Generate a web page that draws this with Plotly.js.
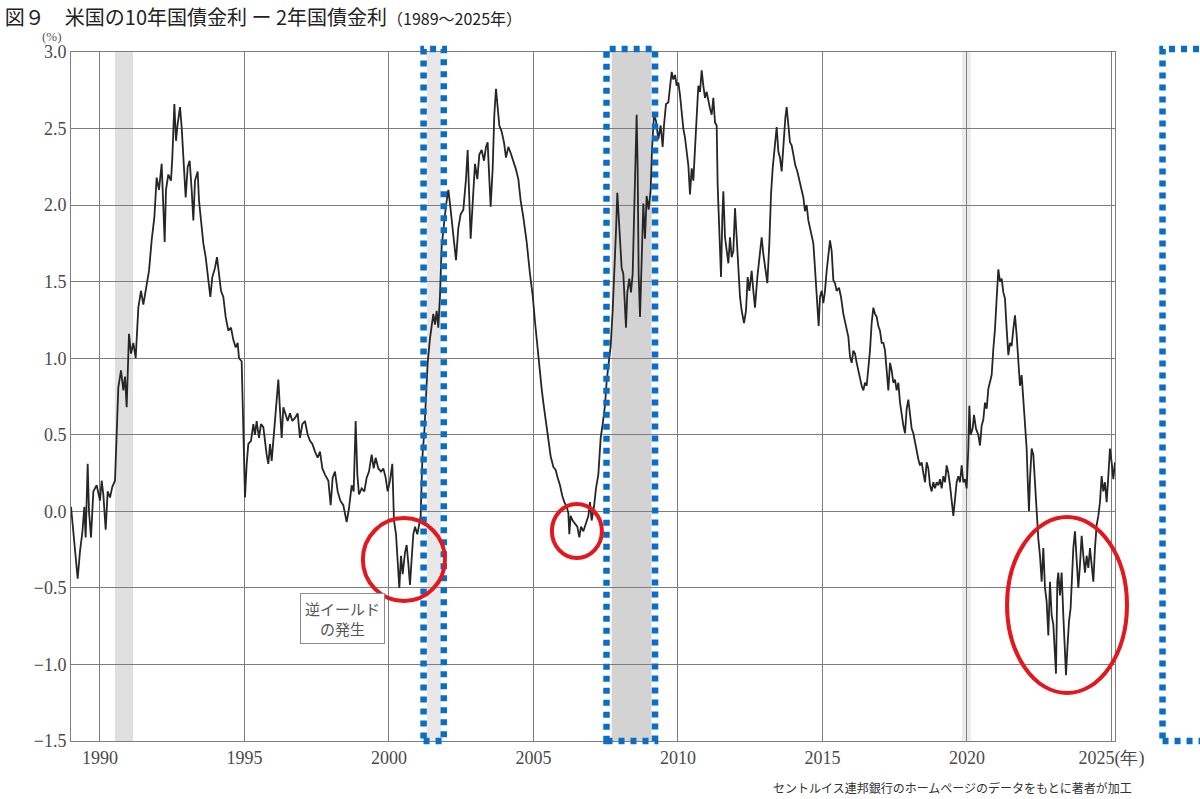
<!DOCTYPE html>
<html>
<head>
<meta charset="utf-8">
<script src="https://cdn.plot.ly/plotly-3.0.1.min.js"></script>
<style>html,body{margin:0;padding:0;background:#fff;}#chart{width:1200px;height:799px;}</style>
</head>
<body>
<div id="chart"></div>
<script>
// ---- data: 10y - 2y US Treasury spread (%) ----
const yearsA = [1989.000,1989.081,1989.231,1989.311,1989.392,1989.461,1989.507,1989.577,1989.623,1989.692,
1989.773,1989.888,1990.003,1990.061,1990.119,1990.200,1990.269,1990.349,1990.430,1990.522,
1990.580,1990.638,1990.730,1990.811,1990.869,1990.926,1991.007,1991.076,1991.157,1991.238,
1991.330,1991.422,1991.503,1991.618,1991.699,1991.791,1991.884,1991.964,1992.045,1992.137,
1992.195,1992.241,1992.287,1992.368,1992.460,1992.506,1992.576,1992.633,1992.691,1992.772,
1992.829,1992.898,1992.968,1993.037,1993.106,1993.175,1993.233,1993.291,1993.383,1993.429,
1993.498,1993.579,1993.660,1993.752,1993.821,1993.890,1993.983,1994.052,1994.121,1994.190,
1994.271,1994.352,1994.444,1994.536,1994.617,1994.698,1994.767,1994.813,1994.905,1994.940,
1994.975,1995.021,1995.079,1995.136,1995.228,1995.309,1995.367,1995.424,1995.505,1995.574,
1995.655,1995.713,1995.770,1995.828,1995.886,1995.944,1996.036,1996.117,1996.174,1996.232,
1996.290,1996.347,1996.405,1996.497,1996.578,1996.659,1996.751,1996.843,1996.924,1997.005,
1997.097,1997.189,1997.270,1997.351,1997.443,1997.535,1997.616,1997.697,1997.789,1997.905,
1997.985,1998.054,1998.135,1998.227,1998.320,1998.423,1998.539,1998.619,1998.712,1998.781,
1998.850,1998.908,1998.965,1999.058,1999.150,1999.231,1999.312,1999.404,1999.473,1999.542,
1999.635,1999.727,1999.807,1999.888,1999.957,2000.038,2000.118];
const spreadA = [0.03,-0.14,-0.44,-0.26,-0.14,0.03,-0.17,0.31,0.00,-0.17,
0.13,0.17,0.07,0.20,0.11,-0.12,0.13,0.09,0.16,0.20,
0.57,0.81,0.92,0.79,0.88,0.68,1.16,1.03,1.10,1.00,
1.33,1.44,1.35,1.48,1.57,1.77,1.92,2.18,2.10,2.27,
1.99,1.76,2.10,2.20,2.16,2.31,2.66,2.42,2.53,2.64,
2.51,2.31,2.05,2.25,2.29,2.10,1.90,2.16,2.22,2.03,
1.88,1.75,1.66,1.49,1.40,1.53,1.59,1.66,1.55,1.44,
1.40,1.27,1.18,1.20,1.12,1.07,1.10,1.00,0.98,0.68,
0.35,0.09,0.31,0.44,0.46,0.57,0.50,0.59,0.48,0.57,
0.55,0.44,0.37,0.31,0.44,0.33,0.53,0.70,0.86,0.66,
0.48,0.68,0.64,0.59,0.64,0.59,0.61,0.64,0.48,0.57,
0.59,0.50,0.46,0.44,0.39,0.35,0.39,0.28,0.24,0.20,
0.04,0.22,0.26,0.13,0.07,0.04,-0.07,0.02,0.17,0.13,
0.59,0.24,0.11,0.15,0.13,0.22,0.26,0.37,0.28,0.35,
0.28,0.26,0.28,0.22,0.13,0.20,0.31];

const yearsB = [2000.176,2000.246,2000.326,2000.361,2000.419,2000.476,2000.557,2000.615,2000.672,2000.730,
2000.788,2000.845,2000.903,2000.984,2001.053,2001.099,2001.145,2001.168,2001.226,2001.284,
2001.341,2001.422,2001.480,2001.537,2001.595,2001.653,2001.710,2001.768,2001.826,2001.883,
2001.941,2001.999,2002.056,2002.114,2002.172,2002.229,2002.322,2002.402,2002.483,2002.576,
2002.668,2002.725,2002.783,2002.829,2002.898,2002.979,2003.060,2003.129,2003.210,2003.291,
2003.360,2003.417,2003.475,2003.521,2003.591,2003.648,2003.706,2003.764,2003.821,2003.902,
2003.983,2004.052,2004.133,2004.213,2004.306,2004.386,2004.479,2004.559,2004.652,2004.767,
2004.882,2004.975,2005.055,2005.136,2005.205,2005.286,2005.344,2005.436,2005.517,2005.597,
2005.690,2005.770,2005.840,2005.920,2006.001,2006.070,2006.151,2006.209,2006.243,2006.289,
2006.359,2006.439,2006.520,2006.589,2006.647,2006.728,2006.820,2006.901,2006.958,2007.016,
2007.097,2007.166,2007.247,2007.328,2007.397,2007.477,2007.535,2007.604,2007.674,2007.743,
2007.800,2007.858,2007.904,2007.950,2007.996,2008.054,2008.112,2008.170,2008.204,2008.250,
2008.319,2008.377,2008.435,2008.481,2008.527,2008.573,2008.608,2008.642,2008.689,2008.735,
2008.804,2008.862,2008.919,2008.988,2009.058,2009.104,2009.173,2009.242,2009.323,2009.404,
2009.473,2009.519,2009.588];
const spreadB = [-0.06,-0.15,-0.36,-0.50,-0.29,-0.41,-0.27,-0.22,-0.34,-0.48,
-0.31,-0.15,-0.10,-0.15,-0.08,-0.03,0.27,0.38,0.52,0.78,
0.97,1.13,1.22,1.29,1.22,1.31,1.20,1.41,1.73,1.85,
1.94,2.03,2.10,2.01,1.90,1.83,1.64,1.85,1.94,1.97,
2.17,2.36,2.06,1.78,2.01,2.27,2.17,2.33,2.36,2.29,
2.38,2.41,2.17,1.99,2.24,2.59,2.76,2.64,2.52,2.48,
2.41,2.31,2.38,2.34,2.29,2.24,2.17,2.03,1.92,1.76,
1.55,1.41,1.24,1.08,0.92,0.80,0.71,0.59,0.48,0.36,
0.29,0.27,0.22,0.17,0.10,0.06,0.03,-0.01,-0.15,-0.03,
-0.06,-0.08,-0.10,-0.17,-0.10,-0.13,-0.08,-0.03,0.06,-0.06,
0.03,0.15,0.24,0.48,0.57,0.69,0.85,0.99,1.08,1.31,
1.64,1.83,2.08,1.90,1.73,1.59,1.55,1.34,1.20,1.43,
1.52,1.43,1.55,1.90,2.24,2.59,2.24,1.55,1.27,1.64,
2.01,1.78,2.06,1.97,2.10,2.36,2.59,2.55,2.43,2.52,
2.38,2.52,2.66];

const yearsC = [2009.669,2009.727,2009.785,2009.842,2009.900,2009.958,2010.015,2010.073,2010.131,2010.188,
2010.246,2010.304,2010.361,2010.419,2010.477,2010.534,2010.592,2010.650,2010.707,2010.765,
2010.823,2010.880,2010.938,2010.996,2011.053,2011.111,2011.169,2011.226,2011.284,2011.342,
2011.376,2011.423,2011.457,2011.492,2011.538,2011.573,2011.630,2011.688,2011.746,2011.803,
2011.861,2011.919,2011.976,2012.034,2012.092,2012.149,2012.207,2012.288,2012.357,2012.414,
2012.472,2012.553,2012.611,2012.668,2012.749,2012.818,2012.899,2012.957,2013.026,2013.095,
2013.164,2013.222,2013.280,2013.349,2013.418,2013.476,2013.533,2013.591,2013.649,2013.718,
2013.764,2013.822,2013.879,2013.937,2013.995,2014.064,2014.133,2014.202,2014.283,2014.341,
2014.398,2014.456,2014.514,2014.571,2014.629,2014.687,2014.733,2014.779,2014.825,2014.871,
2014.917,2014.975,2015.033,2015.090,2015.148,2015.206,2015.263,2015.321,2015.379,2015.436,
2015.494,2015.575,2015.644,2015.725,2015.805,2015.898,2015.955,2016.013,2016.071,2016.128,
2016.186,2016.244,2016.301,2016.359,2016.417,2016.474,2016.532,2016.590,2016.647,2016.705,
2016.763,2016.820,2016.878,2016.936,2016.993,2017.051,2017.109,2017.167,2017.224,2017.282,
2017.340,2017.397,2017.455,2017.513,2017.570,2017.628,2017.686,2017.743,2017.801,2017.859,
2017.916,2017.974,2018.032,2018.089,2018.147,2018.205,2018.262,2018.320,2018.378,2018.435,
2018.493,2018.551,2018.608,2018.666,2018.724,2018.781,2018.839,2018.897,2018.954,2019.012,
2019.070,2019.127,2019.185,2019.243,2019.300,2019.358,2019.416,2019.473,2019.531,2019.589,
2019.646,2019.704,2019.762,2019.819,2019.877];
const spreadC = [2.67,2.78,2.87,2.82,2.85,2.78,2.80,2.72,2.61,2.50,
2.44,2.35,2.26,2.07,2.24,2.16,2.35,2.57,2.78,2.74,
2.88,2.78,2.70,2.74,2.67,2.63,2.59,2.70,2.54,2.52,
2.13,1.92,1.79,1.53,1.92,2.09,1.79,1.70,1.62,1.79,
1.66,1.70,1.98,1.79,1.62,1.40,1.31,1.23,1.31,1.53,
1.44,1.57,1.44,1.33,1.53,1.66,1.79,1.68,1.57,1.49,
1.75,2.07,2.24,2.39,2.51,2.35,2.31,2.22,2.41,2.57,
2.64,2.50,2.41,2.39,2.33,2.26,2.22,2.16,2.09,2.05,
1.96,2.00,1.90,1.85,1.81,1.75,1.62,1.49,1.36,1.21,
1.40,1.44,1.36,1.44,1.57,1.70,1.77,1.70,1.51,1.49,
1.44,1.46,1.40,1.29,1.21,1.14,1.01,0.97,1.05,1.03,
0.97,0.92,0.86,0.82,0.79,0.84,0.82,0.92,1.05,1.23,
1.33,1.29,1.27,1.21,1.18,1.10,1.10,1.05,0.92,0.79,
0.97,0.92,0.84,0.86,0.79,0.84,0.71,0.62,0.56,0.51,
0.67,0.73,0.64,0.54,0.51,0.45,0.41,0.34,0.30,0.32,
0.25,0.19,0.32,0.28,0.17,0.13,0.19,0.15,0.19,0.17,
0.21,0.15,0.23,0.19,0.30,0.25,0.17,0.08,-0.03,0.08,
0.19,0.23,0.19,0.30,0.19];

const yearsD = [2019.934,2019.992,2020.049,2020.084,2020.130,2020.199,2020.246,2020.315,2020.395,2020.453,
2020.511,2020.569,2020.626,2020.684,2020.742,2020.799,2020.857,2020.915,2020.972,2021.030,
2021.088,2021.145,2021.203,2021.261,2021.318,2021.376,2021.434,2021.491,2021.549,2021.607,
2021.664,2021.722,2021.780,2021.837,2021.895,2021.953,2022.010,2022.068,2022.103,2022.149,
2022.183,2022.241,2022.299,2022.356,2022.414,2022.472,2022.529,2022.587,2022.645,2022.702,
2022.760,2022.818,2022.875,2022.933,2022.991,2023.048,2023.083,2023.129,2023.164,2023.221,
2023.279,2023.337,2023.394,2023.429,2023.475,2023.533,2023.590,2023.637,2023.683,2023.740,
2023.798,2023.856,2023.913,2023.971,2024.029,2024.086,2024.144,2024.202,2024.259,2024.317,
2024.375,2024.432,2024.490,2024.548,2024.605,2024.663,2024.721,2024.778,2024.836,2024.894,
2024.951,2025.009,2025.067,2025.124];
const spreadD = [0.21,0.15,0.41,0.69,0.50,0.54,0.63,0.54,0.50,0.43,
0.56,0.60,0.71,0.67,0.80,0.84,0.89,1.06,1.19,1.39,
1.58,1.50,1.52,1.43,1.39,1.19,1.02,1.10,1.08,1.19,
1.28,1.15,1.00,0.82,0.89,0.73,0.54,0.41,0.21,0.00,
0.21,0.41,0.37,0.19,-0.03,-0.18,-0.29,-0.46,-0.24,-0.50,
-0.59,-0.81,-0.46,-0.68,-0.74,-0.90,-1.06,-0.46,-0.40,-0.55,
-0.40,-0.68,-0.96,-1.07,-0.90,-0.72,-0.63,-0.46,-0.24,-0.13,
-0.35,-0.50,-0.35,-0.16,-0.29,-0.40,-0.29,-0.37,-0.24,-0.37,
-0.46,-0.24,-0.09,-0.03,0.06,0.23,0.13,0.19,0.06,0.23,
0.41,0.32,0.21,0.32];

// axis ticks
const tickYears = [1990,1995,2000,2005,2010,2015,2020,2025];
const tickYearLabels = ['1990','1995','2000','2005','2010','2015','2020','2025(年)'];

// recession shading and highlights (years / values)
const recessionBands = [[1990.52,1991.15],[2001.32,2001.80],[2007.71,2009.09],[2019.83,2020.14]];
const bandColors = ['#e0e0e0','#e8e8e8','#d3d3d3','#ececec'];
const highlightBoxes = [[2001.20,2001.90],[2007.53,2009.21],[2026.77,2028.30]];
const boxValueSpan = [-1.5, 3.02];
const inversionRings = [[1999.10,2001.94,-0.586,-0.044],[2005.64,2007.37,-0.305,0.048],[2021.39,2025.54,-1.187,-0.037]];

const X_RANGE = [1989, 2025.125];
const Y_RANGE = [-1.5, 3.0];
const px = yr => (yr - X_RANGE[0]) / (X_RANGE[1] - X_RANGE[0]);
const py = v => (v - Y_RANGE[0]) / (Y_RANGE[1] - Y_RANGE[0]);

const xs = yearsA.concat(yearsB, yearsC, yearsD);
const ys = spreadA.concat(spreadB, spreadC, spreadD);

const shapes = [];
recessionBands.forEach((b, i) => shapes.push({
  type:'rect', xref:'x', yref:'paper', x0:b[0], x1:b[1], y0:0, y1:1,
  fillcolor:bandColors[i], line:{width:0}, layer:'below'
}));
highlightBoxes.forEach(b => shapes.push({
  type:'rect', xref:'paper', yref:'paper', x0:px(b[0]), x1:px(b[1]),
  y0:py(boxValueSpan[0]), y1:py(boxValueSpan[1]),
  line:{color:'#0a6fc4', width:6.5, dash:'6px,6px'}, layer:'above'
}));
inversionRings.forEach(r => shapes.push({
  type:'circle', xref:'paper', yref:'paper', x0:px(r[0]), x1:px(r[1]), y0:py(r[2]), y1:py(r[3]),
  line:{color:'#e3171e', width:4}, layer:'above'
}));

const serif = 'Liberation Serif, DejaVu Serif, serif';
const jp = 'Noto Sans CJK JP, sans-serif';

const layout = {
  width:1200, height:799,
  margin:{l:71, r:85, t:52, b:58},
  paper_bgcolor:'#ffffff', plot_bgcolor:'#ffffff',
  showlegend:false,
  title:{
    text:'図９　米国の10年国債金利 ー 2年国債金利<span style="font-size:16px">（1989〜2025年）</span>',
    font:{family:jp, size:20, color:'#222222'},
    xref:'container', yref:'container', x:0.004, xanchor:'left', y:0.978, yanchor:'middle'
  },
  xaxis:{
    range:X_RANGE, tickmode:'array', tickvals:tickYears, ticktext:tickYearLabels,
    showgrid:true, gridcolor:'#7d7d7d', gridwidth:1, zeroline:false,
    showline:true, linecolor:'#7d7d7d', linewidth:1, mirror:true, ticks:'',
    tickfont:{family:serif, size:18, color:'#4a4a4a'}, fixedrange:true
  },
  yaxis:{
    range:Y_RANGE, tickmode:'linear', tick0:0, dtick:0.5, tickformat:'.1f',
    showgrid:true, gridcolor:'#7d7d7d', gridwidth:1, zeroline:false,
    showline:true, linecolor:'#7d7d7d', linewidth:1, mirror:true, ticks:'',
    tickfont:{family:serif, size:18, color:'#4a4a4a'}, fixedrange:true
  },
  shapes:shapes,
  annotations:[
    {text:'(%)', xref:'paper', yref:'paper', x:-0.018, y:1.0225, xanchor:'center', yanchor:'middle',
     showarrow:false, font:{family:serif, size:13, color:'#555'}},
    {text:'逆イールド<br>の発生', xref:'x', yref:'y', x:1998.38, y:-0.70, xanchor:'center', yanchor:'middle',
     showarrow:false, align:'center', font:{family:jp, size:15, color:'#555'},
     bordercolor:'#8c8c8c', borderwidth:1, borderpad:4, bgcolor:'#ffffff'},
    {text:'セントルイス連邦銀行のホームページのデータをもとに著者が加工', xref:'paper', yref:'paper',
     x:1.0182, y:-0.068, xanchor:'right', yanchor:'middle', showarrow:false,
     font:{family:jp, size:12, color:'#333'}}
  ]
};

const trace = {
  type:'scatter', mode:'lines', x:xs, y:ys,
  line:{color:'#262626', width:1.8}, hoverinfo:'skip'
};

Plotly.newPlot('chart', [trace], layout, {staticPlot:true, displayModeBar:false});
</script>
</body>
</html>
